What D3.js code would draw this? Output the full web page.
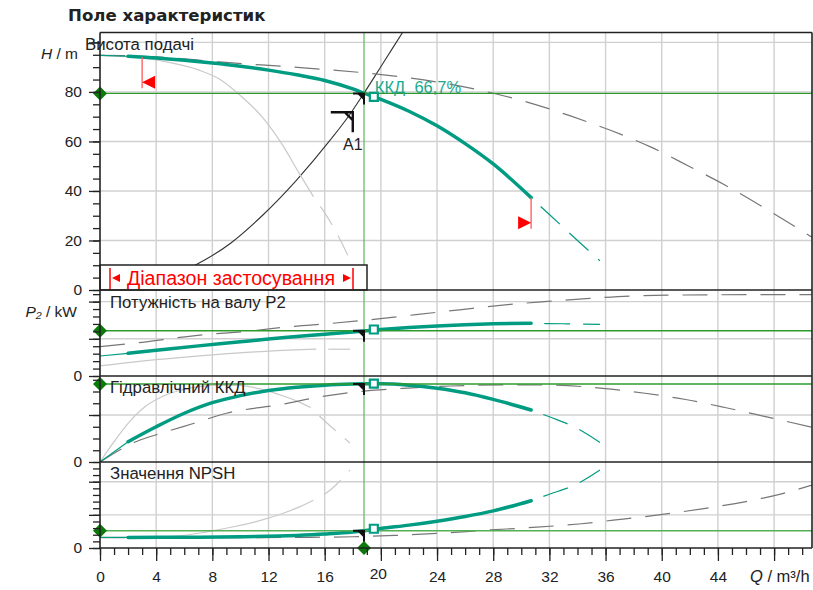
<!DOCTYPE html>
<html>
<head>
<meta charset="utf-8">
<script src="https://cdn.jsdelivr.net/npm/d3@7"></script>
<style>
body { margin: 0; background: #fff; }
svg text { font-family: "Liberation Sans", Arial, sans-serif; fill: #222; }
</style>
</head>
<body>
<script>
// ---- data ----
const panelTitles = ["Висота подачі", "Потужність на валу P2", "Гідравлічний ККД", "Значення NPSH"];
const qLabels = [0, 4, 8, 12, 16, 20, 24, 28, 32, 36, 40, 44];
const hLabels = [0, 20, 40, 60, 80];

// pump curves (thick between qStart and qEnd, thin / dashed outside)
const qStart = 2, qEnd = 30.7;
const qHead = [0, 2, 4, 6, 8, 10, 12, 14, 16, 18, 18.8, 20, 22, 24, 26, 28, 30.7, 32, 34, 35.6];
const head  = [94.8, 94.4, 93.7, 92.8, 91.7, 90.4, 88.8, 86.9, 84.6, 81.2, 79.5, 77.0, 72.2, 66.3, 59.1, 50.9, 37.3, 30.5, 20, 11.8];
const qPow  = [0, 2, 4, 7, 10, 12, 14, 16, 18, 18.8, 20, 22, 24, 26, 28, 30.7, 33, 35.6];
const power = [2.69, 3.05, 3.45, 4.05, 4.6, 4.98, 5.3, 5.62, 5.92, 6.06, 6.25, 6.52, 6.73, 6.9, 7.02, 7.08, 7.02, 6.95];
const qEff  = [0, 2, 4, 6, 8, 10, 12, 14, 16, 18, 18.8, 20, 22, 24, 26, 28, 30.7, 32, 34, 35.6];
const eff   = [0, 17.3, 30, 41.5, 50.5, 56.5, 60.8, 63.6, 65.4, 66.3, 66.5, 66.6, 65.4, 62.8, 58.9, 53.3, 44.3, 38.5, 28.5, 16.7];
const qNpsh = [0, 2, 6, 10, 14, 16, 18, 18.8, 20, 22, 24, 26, 28, 30.7, 32, 34, 35.6];
const npsh  = [1.6, 1.6, 1.62, 1.7, 1.9, 2.1, 2.4, 2.6, 2.95, 3.45, 4.05, 4.75, 5.6, 7.13, 8.1, 9.7, 11.76];

// min speed curves (light grey, solid then dashed)
const qHeadMin = [0, 3, 5, 7, 8.5, 10, 11.5, 13, 14.2, 15.2, 16.4, 17.6, 18.3];
const headMin  = [94.8, 93.7, 91.8, 88.9, 85.2, 78.5, 70.2, 58.5, 47, 37.7, 27.5, 14.5, 5];
const qPowMin  = [0, 4, 8, 12, 15.4, 17.8];
const powMin   = [1.35, 2.2, 2.85, 3.35, 3.6, 3.6];
const qEffMin  = [0, 1, 2, 3.2, 4.4, 5.8, 7.2, 8.5, 9.8, 11.5, 13.1, 14.2, 15, 16.4, 17.8];
const effMin   = [0, 17.3, 32.9, 47, 55.6, 61.3, 64.3, 65.5, 65.2, 62, 56, 51, 46.3, 30.6, 16.2];
const qNpshMin = [0, 3, 5.5, 7.5, 9.5, 11.5, 13, 14.2, 15.2, 16.4, 17.8];
const npshMin  = [1.6, 1.6, 1.8, 2.4, 3.2, 4.2, 5.2, 6.2, 7.2, 8.75, 11.76];
const minSolidEnd = [15.2, 15.4, 15, 15.2];

// max curves (grey dashed)
const qHeadMax = [0, 4.3, 8.5, 14.5, 20.2, 24, 27.6, 30.6, 33.5, 36.3, 39.2, 41.9, 44.5, 47.9, 50.7];
const headMax  = [94.8, 94.1, 92.1, 89.7, 86.9, 84, 80, 75.6, 70.3, 64.6, 57.8, 50.1, 42.4, 31.1, 21.3];
const qPowMax  = [0, 3, 6.8, 10.7, 13.5, 16.5, 19.5, 22.5, 25.6, 28.5, 31.6, 34.6, 37.8, 41, 44, 47, 50.7];
const powMax   = [3.94, 4.53, 5.44, 6.05, 6.63, 7.08, 7.62, 8.25, 8.9, 9.5, 9.99, 10.4, 10.75, 10.88, 10.92, 10.93, 10.93];
const qEffMax  = [0, 2.6, 4.5, 6.7, 9, 12.9, 15.8, 18.8, 21.6, 25, 28.5, 32, 35.8, 38.8, 41.7, 44.5, 47.4, 50.7];
const effMax   = [0, 17.5, 25, 33, 41.5, 48.9, 55.7, 60.4, 62.7, 64.7, 65.6, 65.5, 62.7, 58.5, 53.2, 46.4, 38.6, 29.5];
const qNpshMax = [0, 8, 14, 18, 21, 24, 27.6, 30.8, 34.1, 37.4, 40.2, 43, 46, 48.6, 50.7];
const npshMax  = [1.55, 1.55, 1.6, 1.7, 1.9, 2.2, 2.7, 3.1, 3.62, 4.4, 5.1, 5.95, 7.0, 8.2, 9.5];

// system curve
const qSys = [0, 4, 6.8, 9.3, 11.6, 14, 16.4, 17.8, 18.8, 20.2, 21.6];
const hSys = [0, 3.6, 10.1, 18.9, 30.3, 44.4, 60.6, 71, 79.5, 92, 104.5];

// operating point, best efficiency point, A1
const opQ = 18.8;
const opValues = [79.4, 6.08, 66.4, 2.6];
const bepQ = 19.5;
const bepValues = [78, 6.25, 66.7, 2.9];
const bepText = "ККД  66,7%";
const a1 = [18.0, 71.8];
const rangeQ = [3.0, 30.7];

// ---- layout ----
const w = 813, h = 590;
const left = 100, right = 812;
const teal = "#009c82", red = "#ff0000";

let x = d3.scaleLinear().domain([0, 50.7]).range([left, right]);
let yH = d3.scaleLinear().domain([0, 104]).range([290, 32.5]);
let yP = d3.scaleLinear().domain([0, 11.56]).range([376, 290]);
let yE = d3.scaleLinear().domain([0, 73.2]).range([462, 376]);
let yN = d3.scaleLinear().domain([0, 12.97]).range([548, 462]);
let scales = [yH, yP, yE, yN];

let svg = d3.select("body").append("svg")
  .attr("width", w).attr("height", h);

// clip per panel
scales.forEach((s, i) => {
  svg.append("clipPath").attr("id", "clip" + i)
    .append("rect")
    .attr("x", left).attr("y", s.range()[1])
    .attr("width", right - left).attr("height", s.range()[0] - s.range()[1]);
});

// grid
let grid = svg.append("g").attr("stroke", "#d0d0d0").attr("stroke-width", 1.4);
grid.selectAll(".vg").data(d3.range(4, 50, 4)).enter().append("line")
  .attr("x1", d => x(d)).attr("x2", d => x(d))
  .attr("y1", yH.range()[1]).attr("y2", yN.range()[0]);
const gridVals = [[20, 40, 60, 80, 100], [5, 10], [40], [5, 10]];
gridVals.forEach((vals, i) => {
  grid.selectAll(".hg" + i).data(vals).enter().append("line")
    .attr("x1", left).attr("x2", right)
    .attr("y1", d => scales[i](d)).attr("y2", d => scales[i](d));
});

function pts(qs, vs, lo, hi) {
  return qs.map((q, i) => [q, vs[i]]).filter(p => p[0] >= lo && p[0] <= hi);
}
function curve(i, data, stroke, width, dash, offset) {
  let line = d3.line().x(d => x(d[0])).y(d => scales[i](d[1])).curve(d3.curveMonotoneX);
  let p = svg.append("path").datum(data)
    .attr("clip-path", "url(#clip" + i + ")")
    .attr("d", line)
    .attr("fill", "none")
    .attr("stroke", stroke)
    .attr("stroke-width", width);
  if (dash) p.attr("stroke-dasharray", dash).attr("stroke-dashoffset", offset || 0);
  return p;
}

// system curve
curve(0, pts(qSys, hSys, 0, 60), "#333", 1.1);

const mins = [[qHeadMin, headMin], [qPowMin, powMin], [qEffMin, effMin], [qNpshMin, npshMin]];
const maxs = [[qHeadMax, headMax], [qPowMax, powMax], [qEffMax, effMax], [qNpshMax, npshMax]];
const pumps = [[qHead, head], [qPow, power], [qEff, eff], [qNpsh, npsh]];

mins.forEach((c, i) => {
  curve(i, pts(c[0], c[1], 0, minSolidEnd[i]), "#c9c9c9", 1.2);
  curve(i, pts(c[0], c[1], minSolidEnd[i], 60), "#c9c9c9", 1.2, "22,12", 22);
});
maxs.forEach((c, i) => {
  curve(i, pts(c[0], c[1], 0, 60), "#777", 1.2, "25,14");
});
pumps.forEach((c, i) => {
  curve(i, pts(c[0], c[1], 0, qStart), teal, 1.2);
  curve(i, pts(c[0], c[1], qStart, qEnd), teal, 3.5).attr("stroke-linecap", "round");
  curve(i, pts(c[0], c[1], qEnd, 60), teal, 1.2, "26,13", 26);
});

// operating point lines
let opG = svg.append("g");
opValues.forEach((v, i) => {
  opG.append("line")
    .attr("x1", left).attr("x2", right)
    .attr("y1", scales[i](v)).attr("y2", scales[i](v))
    .attr("stroke", i == 3 ? "#55b055" : "#2e9a2e").attr("stroke-width", 1.3);
});
opG.append("line")
  .attr("x1", x(opQ)).attr("x2", x(opQ))
  .attr("y1", yH.range()[1]).attr("y2", yN.range()[0])
  .attr("stroke", "#5cb85c").attr("stroke-width", 1.2);

// range markers on the head curve
let hAt = d3.scaleLinear().domain(qHead).range(head);
rangeQ.forEach((q, j) => {
  let px = x(q), py = yH(hAt(q));
  svg.append("line").attr("x1", px).attr("x2", px)
    .attr("y1", py).attr("y2", py + 31)
    .attr("stroke", "#ff6b6b").attr("stroke-width", 1.5);
  let dir = j == 0 ? 1 : -1;
  svg.append("path")
    .attr("d", `M${px},${py + 25} L${px + dir * 13},${py + 18.5} L${px + dir * 13},${py + 31.5} Z`)
    .attr("fill", red);
});

// hooks at operating point
opValues.forEach((v, i) => {
  let cx = x(opQ), cy = scales[i](v);
  svg.append("path")
    .attr("d", `M${cx - 11},${cy} H${cx} V${cy + 11}`)
    .attr("fill", "none").attr("stroke", "#111").attr("stroke-width", 2);
  svg.append("path")
    .attr("d", `M${cx - 7},${cy} L${cx},${cy} L${cx},${cy + 7} Z`)
    .attr("fill", "#111");
});

// A1
let ax = x(a1[0]), ay = yH(a1[1]);
svg.append("path")
  .attr("d", `M${ax - 22},${ay} H${ax} V${ay + 20} M${ax - 8},${ay} L${ax},${ay + 8}`)
  .attr("fill", "none").attr("stroke", "#111").attr("stroke-width", 2.4);
svg.append("text").attr("x", ax).attr("y", ay + 38)
  .attr("text-anchor", "middle").attr("font-size", 16).text("A1");

// best efficiency squares
bepValues.forEach((v, i) => {
  svg.append("path")
    .attr("d", d3.symbol(d3.symbolSquare, 64)())
    .attr("transform", `translate(${x(bepQ)},${scales[i](v)})`)
    .attr("fill", "#fff").attr("stroke", teal).attr("stroke-width", 2.2);
});
svg.append("text").attr("x", x(bepQ) + 1).attr("y", yH(bepValues[0]) - 4)
  .attr("font-size", 16.5).style("fill", "#20a88e")
  .style("white-space", "pre").text(bepText);

// range box
let box = svg.append("g");
box.append("rect").attr("x", left).attr("y", 265).attr("width", 267).attr("height", 25)
  .attr("fill", "#fff").attr("stroke", "#222").attr("stroke-width", 1.5);
box.append("line").attr("x1", 110).attr("x2", 110).attr("y1", 268).attr("y2", 289)
  .attr("stroke", red).attr("stroke-width", 1.5);
box.append("line").attr("x1", 353).attr("x2", 353).attr("y1", 268).attr("y2", 289)
  .attr("stroke", red).attr("stroke-width", 1.5);
box.append("path").attr("d", "M112,278 L120,274 L120,282 Z").attr("fill", red);
box.append("path").attr("d", "M351,278 L343,274 L343,282 Z").attr("fill", red);
box.append("text").attr("x", 127).attr("y", 285).attr("font-size", 19.6)
  .style("fill", red).text("Діапазон застосування");

// diamonds
let dia = d3.symbol(d3.symbolSquare, 98)();
opValues.forEach((v, i) => {
  svg.append("path").attr("d", dia)
    .attr("transform", `translate(${left},${scales[i](v)}) rotate(45)`)
    .attr("fill", "#0b7a0b");
});
svg.append("path").attr("d", dia)
  .attr("transform", `translate(${x(opQ)},${yN(0)}) rotate(45)`)
  .attr("fill", "#0b7a0b");

// panel borders
let frame = svg.append("g").attr("stroke", "#222").attr("stroke-width", 1.6);
[32.5, 290, 376, 462, 548].forEach(yy => {
  frame.append("line").attr("x1", left).attr("x2", right).attr("y1", yy).attr("y2", yy);
});
frame.append("line").attr("x1", left).attr("x2", left).attr("y1", 32.5).attr("y2", 548);
frame.append("line").attr("x1", right).attr("x2", right).attr("y1", 32.5).attr("y2", 548);

// left axes
const minorTicks = [d3.range(0, 105, 5), d3.range(0, 12, 1), d3.range(0, 80, 10), d3.range(0, 13, 1)];
const majorTicks = [[0, 20, 40, 60, 80, 100], [0, 5, 10], [0, 40], [0, 5, 10]];
const tickLabels = [hLabels, [0], [0], [0]];
scales.forEach((s, i) => {
  svg.append("g").attr("transform", `translate(${left},0)`)
    .call(d3.axisLeft(s).tickValues(minorTicks[i]).tickSize(7).tickFormat(""))
    .call(g => g.select(".domain").remove());
  svg.append("g").attr("transform", `translate(${left},0)`)
    .call(d3.axisLeft(s).tickValues(majorTicks[i]).tickSize(11).tickPadding(7)
      .tickFormat(d => tickLabels[i].includes(d) ? d : ""))
    .call(g => g.select(".domain").remove())
    .call(g => g.selectAll("text").attr("font-size", 15.5).style("font-family", "Liberation Sans, Arial"));
});

// bottom axis
svg.append("g").attr("transform", `translate(0,${yN(0)})`)
  .call(d3.axisBottom(x).tickValues(d3.range(0, 51, 1)).tickSize(7).tickFormat(""))
  .call(g => g.select(".domain").remove());
let xAxis = svg.append("g").attr("transform", `translate(0,${yN(0)})`)
  .call(d3.axisBottom(x).tickValues(d3.range(0, 49, 4)).tickSize(13).tickPadding(10)
    .tickFormat(d => qLabels.includes(d) ? d : ""))
  .call(g => g.select(".domain").remove());
xAxis.selectAll("text").attr("font-size", 15.5).style("font-family", "Liberation Sans, Arial");
xAxis.selectAll(".tick").filter(d => d == 20).select("text").attr("dx", -3).attr("y", 20);
svg.selectAll(".tick line").attr("stroke", "#222").attr("stroke-width", 1.3);

// labels
svg.append("text").attr("x", 68).attr("y", 21)
  .attr("font-size", 16.6).attr("font-weight", "bold")
  .style("font-family", "DejaVu Sans, Verdana, sans-serif").text("Поле характеристик");

let titleY = [50, 308, 393, 479];
panelTitles.forEach((t, i) => {
  svg.append("text").attr("x", i == 0 ? 85 : 110).attr("y", titleY[i])
    .attr("font-size", 16.8).text(t);
});

let hl = svg.append("text").attr("x", 78).attr("y", 59).attr("text-anchor", "end").attr("font-size", 15.5);
hl.append("tspan").attr("font-style", "italic").text("H");
hl.append("tspan").text(" / m");

let pl = svg.append("text").attr("x", 77).attr("y", 317).attr("text-anchor", "end").attr("font-size", 15.5);
pl.append("tspan").attr("font-style", "italic").text("P₂");
pl.append("tspan").text(" / kW");

let ql = svg.append("text").attr("x", 750).attr("y", 582).attr("font-size", 16.5);
ql.append("tspan").attr("font-style", "italic").text("Q");
ql.append("tspan").text(" / m³/h");
</script>
</body>
</html>
